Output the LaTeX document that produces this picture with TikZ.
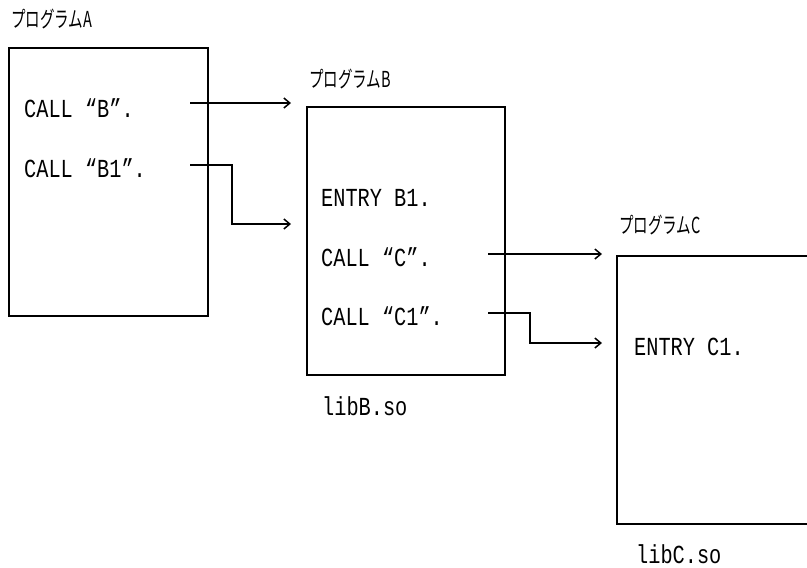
\documentclass[tikz,border=0pt]{standalone}
\usepackage{fontspec}
\newfontfamily\codefont[FakeStretch=0.78]{Liberation Mono}
\newfontfamily\jpfont[FakeStretch=0.66]{Noto Sans CJK JP}
\usetikzlibrary{arrows.meta}
\begin{document}
\begin{tikzpicture}[x=1pt,y=-1pt,
  box/.style={draw, line width=1.8pt, inner sep=0pt, anchor=north west},
  code/.style={anchor=base west, inner sep=0pt, font=\codefont\fontsize{26}{26}\selectfont},
  ptitle/.style={anchor=base west, inner sep=0pt, font=\jpfont\fontsize{22}{22}\selectfont},
  callarrow/.style={line width=1.5pt, -{Straight Barb[length=6pt,width=10pt,line width=1.5pt]}}]
\clip (0,0) rectangle (807,568);
\fill[white] (0,0) rectangle (807,568);
% boxes
\node[box, minimum width=199pt, minimum height=268pt] (A) at (8,47) {};
\node[box, minimum width=198pt, minimum height=268pt] (B) at (306,106) {};
\node[box, minimum width=220pt, minimum height=268pt] (C) at (616,255) {};
% titles
\node[ptitle] (tA) at (11,27) {プログラムA};
\node[ptitle] (tB) at (309,87) {プログラムB};
\node[ptitle] (tC) at (619,233) {プログラムC};
% code lines
\node[code] (cB) at (24,117) {CALL “B”.};
\node[code] (cB1) at (24,177) {CALL “B1”.};
\node[code] (eB1) at (321,206) {ENTRY B1.};
\node[code] (cC) at (321,266) {CALL “C”.};
\node[code] (cC1) at (321,325) {CALL “C1”.};
\node[code] (eC1) at (634,355) {ENTRY C1.};
\node[code] (lB) at (322,415) {libB.so};
\node[code] (lC) at (636,563) {libC.so};
% connector points
\coordinate (a1s) at (190,103);
\coordinate (a1e) at (291,103);
\coordinate (a2s) at (190,165);
\coordinate (a2m) at (232,165);
\coordinate (a2n) at (232,224);
\coordinate (a2e) at (291,224);
\coordinate (a3s) at (488,254);
\coordinate (a3e) at (602,254);
\coordinate (a4s) at (488,313);
\coordinate (a4m) at (530,313);
\coordinate (a4n) at (530,343);
\coordinate (a4e) at (602,343);
% connectors
\draw[callarrow] (a1s) -- (a1e);
\draw[callarrow] (a2s) -- (a2m) -- (a2n) -- (a2e);
\draw[callarrow] (a3s) -- (a3e);
\draw[callarrow] (a4s) -- (a4m) -- (a4n) -- (a4e);
\end{tikzpicture}
\end{document}
